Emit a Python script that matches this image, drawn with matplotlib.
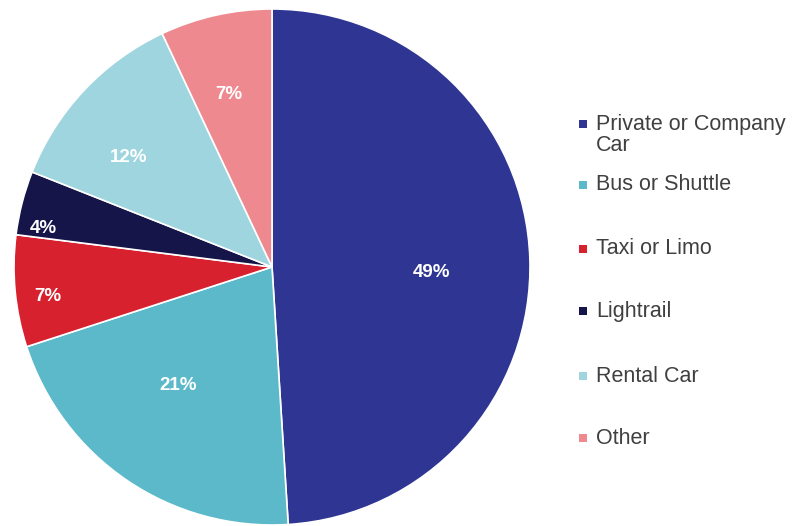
import matplotlib
matplotlib.use("Agg")
import matplotlib.pyplot as plt
from matplotlib.patches import Rectangle
import numpy as np

categories = ["Private or Company\nCar", "Bus or Shuttle", "Taxi or Limo", "Lightrail", "Rental Car", "Other"]
values = [49, 21, 7, 4, 12, 7]
colors = ["#2f3592", "#5bb9c9", "#d7212e", "#15154a", "#9fd5df", "#ee8a8f"]

# layout (label placement inside slices, legend rows)
label_radius = [0.62, 0.585, 0.876, 0.90, 0.70, 0.69]
label_angle_shift = [-3.6, -4.3, 2.0, 4.8, 5.8, 1.4]
legend_y_px = [124, 185, 249, 311, 376, 438]

plt.rcParams['font.family'] = ['Liberation Sans', 'DejaVu Sans']

W, H = 811, 526
fig = plt.figure(figsize=(W / 100, H / 100), dpi=100)
cx, cy, R = 272, 267, 258
ax = fig.add_axes([(cx - R) / W, (H - cy - R) / H, 2 * R / W, 2 * R / H])
wedges, _ = ax.pie(values, colors=colors, startangle=90, counterclock=False,
                   radius=1, wedgeprops=dict(edgecolor="white", linewidth=1.2))
ax.set_xlim(-1, 1)
ax.set_ylim(-1, 1)
ax.set_aspect("equal")
ax.axis("off")

for w, v, r, da in zip(wedges, values, label_radius, label_angle_shift):
    ang = np.deg2rad((w.theta1 + w.theta2) / 2 + da)
    ax.text(r * np.cos(ang), r * np.sin(ang), f"{v}%", ha="center", va="center",
            color="white", fontsize=13.5, fontweight="bold")

for cat, col, ypx in zip(categories, colors, legend_y_px):
    fig.patches.append(Rectangle((579 / W, (H - ypx - 4) / H), 8 / W, 8 / H,
                                 transform=fig.transFigure, facecolor=col, edgecolor="none"))
    nlines = cat.count("\n") + 1
    yc = ypx + (nlines - 1) * 11
    fig.text(596 / W, (H - yc) / H, cat, ha="left", va="center",
             fontsize=15.5, color="#404040", linespacing=0.95)

fig.savefig("out.png", dpi=100)
